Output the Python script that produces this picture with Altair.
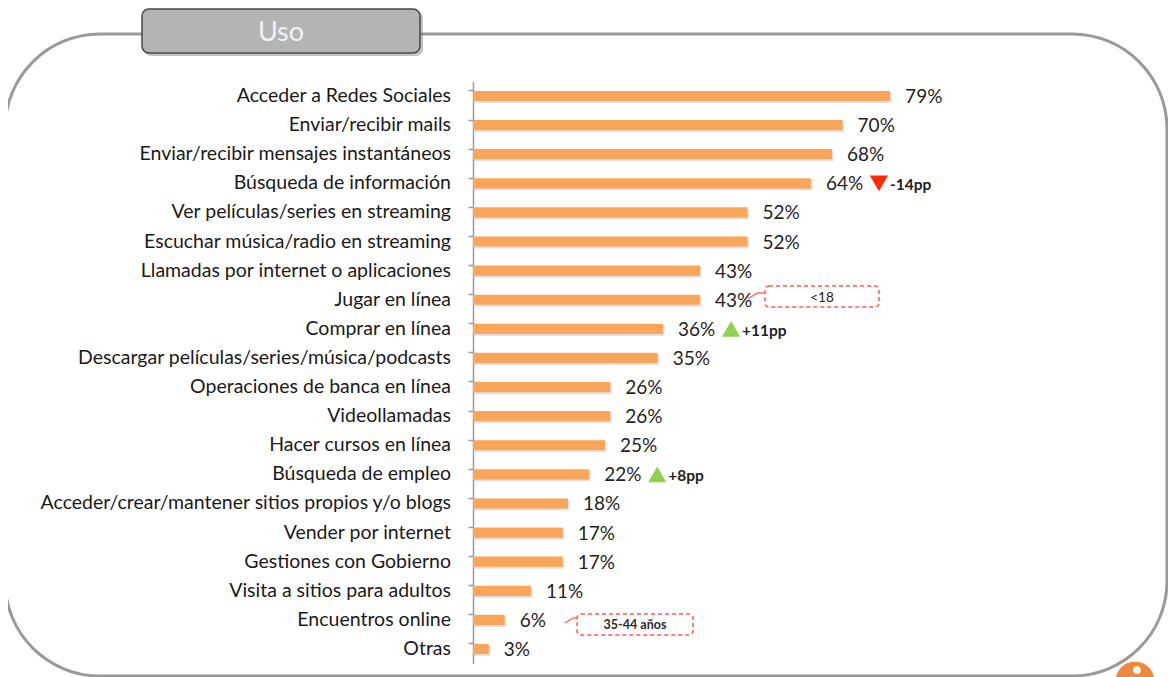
import altair as alt
import pandas as pd

categories = [
    "Acceder a Redes Sociales",
    "Enviar/recibir mails",
    "Enviar/recibir mensajes instantáneos",
    "Búsqueda de información",
    "Ver películas/series en streaming",
    "Escuchar música/radio en streaming",
    "Llamadas por internet o aplicaciones",
    "Jugar en línea",
    "Comprar en línea",
    "Descargar películas/series/música/podcasts",
    "Operaciones de banca en línea",
    "Videollamadas",
    "Hacer cursos en línea",
    "Búsqueda de empleo",
    "Acceder/crear/mantener sitios propios y/o blogs",
    "Vender por internet",
    "Gestiones con Gobierno",
    "Visita a sitios para adultos",
    "Encuentros online",
    "Otras",
]
values = [79, 70, 68, 64, 52, 52, 43, 43, 36, 35, 26, 26, 25, 22, 18, 17, 17, 11, 6, 3]

ann_cats = ["Búsqueda de información", "Comprar en línea", "Búsqueda de empleo"]
ann_vals = [64, 36, 22]
ann_text = ["-14pp", "+11pp", "+8pp"]
ann_shape = ["triangle-down", "triangle-up", "triangle-up"]
ann_color = ["#ff2a00", "#92d050", "#92d050"]

title_text = "Uso"
callout_texts = ["<18", "35-44 años"]

FONT = "Lato"

df = pd.DataFrame({"cat": categories, "val": values, "label": [f"{v}%" for v in values]})
ann = pd.DataFrame({"cat": ann_cats, "val": ann_vals, "txt": ann_text,
                    "shape": ann_shape, "color": ann_color})
one = pd.DataFrame({"a": [0]})

ysc = alt.Scale(domain=categories, range=[73.45, 655.55], paddingInner=0.65, paddingOuter=0.325)
xsc = alt.Scale(domain=[0, 695 / 5.28], nice=False, zero=True)

yaxis = alt.Axis(labels=False, title=None, bandPosition=0, tickSize=5,
                 domainColor="#9a9a9a", tickColor="#9a9a9a",
                 domainWidth=1.5, tickWidth=1.5, grid=False)
Y = alt.Y("cat:N", scale=ysc, sort=None, axis=yaxis)
X = alt.X("val:Q", scale=xsc, axis=None)

def box(x, x2, y, y2, **kw):
    return alt.Chart(one).mark_rect(**kw).encode(
        x=alt.value(x), x2=alt.value(x2), y=alt.value(y), y2=alt.value(y2))

def seg(x, x2, y, y2, **kw):
    return alt.Chart(one).mark_rule(**kw).encode(
        x=alt.value(x), x2=alt.value(x2), y=alt.value(y), y2=alt.value(y2))

def label(x, y, t, **kw):
    return alt.Chart(one).mark_text(**kw).encode(
        x=alt.value(x), y=alt.value(y), text=alt.value(t))

logo = alt.Chart(one).mark_point(filled=True, color="#f0873a", size=1500, opacity=1).encode(
    x=alt.value(662), y=alt.value(673))
logo_dot = alt.Chart(one).mark_point(filled=True, color="#ffffff", size=60, opacity=1).encode(
    x=alt.value(664), y=alt.value(662))

frame = box(-468, 694, 26, 668, fill="white", fillOpacity=0, stroke="#9a9a9a",
            strokeWidth=3, cornerRadius=95)

title_shadow = box(-329, -50, 3, 48, fill="#7a7a7a", opacity=0.45, cornerRadius=7)
title_box = box(-331, -53, 1, 45, fill="#b4b4b4", stroke="#474747", strokeWidth=1.5,
                cornerRadius=7)
title_lbl = label(-192, 25, title_text, font=FONT, fontSize=27, color="#eef3f8",
                  align="center", baseline="middle")

shadow = alt.Chart(df).mark_bar(color="#c8c8c8", opacity=0.55, yOffset=2, xOffset=1.5).encode(
    x=X, y=Y)
bars = alt.Chart(df).mark_bar(color="#f9a65a").encode(x=X, y=Y)

cat_text = alt.Chart(df).mark_text(align="right", baseline="middle", font=FONT,
                                   fontSize=19.5, color="#1a1a1a").encode(
    x=alt.value(-22), y=Y, text="cat:N")
val_text = alt.Chart(df).mark_text(align="left", baseline="middle", dx=15, dy=1,
                                   font=FONT, fontSize=19, color="#1f1f1f").encode(
    x=X, y=Y, text="label:N")

tri = alt.Chart(ann).mark_point(filled=True, size=330, opacity=1, xOffset=68).encode(
    x=X, y=Y,
    shape=alt.Shape("shape:N", scale=None),
    color=alt.Color("color:N", scale=None))
tri_text = alt.Chart(ann).mark_text(align="left", baseline="middle", dx=79, dy=2,
                                    font=FONT, fontSize=15.5, fontWeight="bold",
                                    color="#222222").encode(
    x=X, y=Y, text="txt:N")

dash = dict(fill="white", fillOpacity=0, stroke="#ff5a4a", strokeWidth=1.5,
            strokeDash=[4, 3], cornerRadius=4)
c1 = box(292, 406, 278, 299, **dash)
c1a = seg(275, 284, 291, 285, color="#ff5a4a", strokeWidth=1.3)
c1b = seg(284, 292, 285, 285, color="#ff5a4a", strokeWidth=1.3)
c1t = label(349, 290, callout_texts[0], font=FONT, fontSize=13.5, color="#222222",
            align="center", baseline="middle")
c2 = box(104, 220, 606, 627, **dash)
c2a = seg(92, 100, 615, 610, color="#ff5a4a", strokeWidth=1.3)
c2b = seg(100, 104, 610, 610, color="#ff5a4a", strokeWidth=1.3)
c2t = label(162, 617, callout_texts[1], font=FONT, fontSize=12.5, fontWeight="bold",
            color="#2a2a2a", align="center", baseline="middle")

chart = alt.layer(
    logo, logo_dot, frame, title_shadow, title_box, title_lbl,
    shadow, bars, cat_text, val_text, tri, tri_text,
    c1, c1a, c1b, c1t, c2, c2a, c2b, c2t,
).properties(
    width=695, height=669,
    padding={"left": 465, "top": 0, "right": 0, "bottom": 0},
    autosize=alt.AutoSizeParams(type="none"),
).configure_view(stroke=None)

chart.save("out.html", embed_options={"renderer": "svg", "actions": False})
